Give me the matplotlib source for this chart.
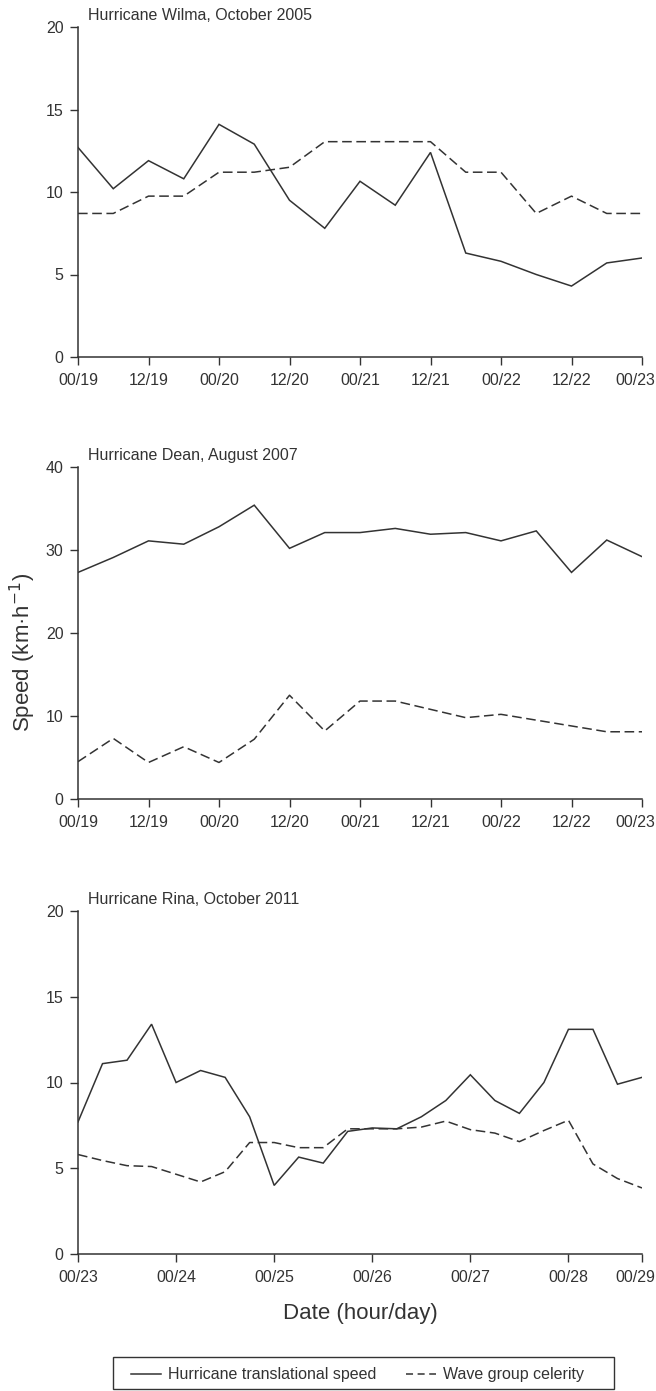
import matplotlib
matplotlib.use("Agg")
import matplotlib.pyplot as plt
import matplotlib.transforms as mtransforms
from matplotlib.lines import Line2D
from matplotlib.patches import Rectangle

# ---------------- data ----------------
hours_wd = [0, 6, 12, 18, 24, 30, 36, 42, 48, 54, 60, 66, 72, 78, 84, 90, 96]

wilma_speed = [12.7, 10.2, 11.9, 10.8, 14.1, 12.9, 9.5, 7.8, 10.65, 9.2, 12.4,
               6.3, 5.8, 5.0, 4.3, 5.7, 6.0]
wilma_celerity = [8.7, 8.7, 9.75, 9.75, 11.2, 11.2, 11.5, 13.05, 13.05, 13.05, 13.05,
                  11.2, 11.2, 8.7, 9.75, 8.7, 8.7]

dean_speed = [27.3, 29.1, 31.1, 30.7, 32.8, 35.4, 30.2, 32.1, 32.1, 32.6, 31.9,
              32.1, 31.1, 32.3, 27.3, 31.2, 29.2]
dean_celerity = [4.5, 7.3, 4.4, 6.3, 4.4, 7.2, 12.5, 8.2, 11.8, 11.8, 10.8,
                 9.8, 10.2, 9.5, 8.8, 8.1, 8.1]

hours_r = [0, 6, 12, 18, 24, 30, 36, 42, 48, 54, 60, 66, 72, 78, 84, 90, 96,
           102, 108, 114, 120, 126, 132, 138]
rina_speed = [7.7, 11.1, 11.3, 13.4, 10.0, 10.7, 10.3, 8.0, 4.0, 5.65, 5.3, 7.15,
              7.35, 7.3, 8.0, 8.95, 10.45, 8.95, 8.2, 10.0, 13.1, 13.1, 9.9, 10.3]
rina_celerity = [5.8, 5.45, 5.15, 5.1, 4.65, 4.2, 4.8, 6.5, 6.5, 6.2, 6.2, 7.3,
                 7.3, 7.3, 7.4, 7.75, 7.25, 7.05, 6.55, 7.2, 7.8, 5.25, 4.4, 3.85]

ticks_wd = [0, 12, 24, 36, 48, 60, 72, 84, 96]
labels_wd = ["00/19", "12/19", "00/20", "12/20", "00/21", "12/21", "00/22", "12/22", "00/23"]
ticks_r = [0, 24, 48, 72, 96, 120, 138]
labels_r = ["00/23", "00/24", "00/25", "00/26", "00/27", "00/28", "00/29"]

titles = ["Hurricane Wilma, October 2005", "Hurricane Dean, August 2007",
          "Hurricane Rina, October 2011"]
series_labels = ["Hurricane translational speed", "Wave group celerity"]

# ---------------- style ----------------
FONT = ["Liberation Sans", "DejaVu Sans"]
INK = "#333333"
W, H = 656, 1391
fig = plt.figure(figsize=(W / 100, H / 100), dpi=100)

left, right = 78, 642
panels = [(27, 357), (467, 799), (911, 1254)]


def make_ax(top, bottom):
    return fig.add_axes([left / W, 1 - bottom / H, (right - left) / W, (bottom - top) / H])


axes = [make_ax(t, b) for t, b in panels]

data = [
    (hours_wd, wilma_speed, wilma_celerity, (0, 20), [0, 5, 10, 15, 20], ticks_wd, labels_wd, (0, 96)),
    (hours_wd, dean_speed, dean_celerity, (0, 40), [0, 10, 20, 30, 40], ticks_wd, labels_wd, (0, 96)),
    (hours_r, rina_speed, rina_celerity, (0, 20), [0, 5, 10, 15, 20], ticks_r, labels_r, (0, 138)),
]

shift_last = mtransforms.ScaledTranslation(-7 / 100, 0, fig.dpi_scale_trans)

for ax, title, (x, s, c, ylim, yt, xt, xl, xlim), (top, bot) in zip(axes, titles, data, panels):
    ax.plot(x, s, color=INK, lw=1.1, solid_joinstyle="miter")
    ax.plot(x, c, color=INK, lw=1.1, linestyle=(0, (6.3, 3.0)))
    ax.set_ylim(*ylim)
    ax.set_xlim(*xlim)
    ax.set_yticks(yt)
    ax.set_xticks(xt)
    ax.set_xticklabels(xl)
    for sp in ("top", "right"):
        ax.spines[sp].set_visible(False)
    for sp in ("left", "bottom"):
        ax.spines[sp].set_color(INK)
        ax.spines[sp].set_linewidth(1.1)
    ax.tick_params(direction="out", length=5.5, width=1.0, color=INK, labelcolor=INK,
                   labelsize=11.5)
    ax.tick_params(axis="x", pad=6)
    ax.tick_params(axis="y", pad=5)
    for lab in ax.get_xticklabels() + ax.get_yticklabels():
        lab.set_family(FONT)
    last = ax.get_xticklabels()[-1]
    last.set_transform(last.get_transform() + shift_last)
    ax.text(0.018, 1 + 4 / (bot - top), title, transform=ax.transAxes, ha="left",
            va="bottom", fontsize=11.5, family=FONT, color=INK)

axes[1].set_ylabel("Speed (km·h$^{-1}$)", fontsize=16, family=FONT, color=INK)
axes[1].yaxis.set_label_coords(-0.071, 0.44)
axes[2].set_xlabel("Date (hour/day)", fontsize=16, family=FONT, color=INK, labelpad=13)

# legend
handles = [Line2D([], [], color=INK, lw=1.1),
           Line2D([], [], color=INK, lw=1.1, linestyle=(0, (4.6, 3.0)))]
leg = fig.legend(handles, series_labels, loc="center left", ncol=2,
                 bbox_to_anchor=(131 / W, 1 - 1375 / H), frameon=False,
                 handlelength=1.85, handletextpad=0.45, columnspacing=1.9,
                 borderpad=0, borderaxespad=0,
                 prop={"family": FONT, "size": 11.5})
for t in leg.get_texts():
    t.set_color(INK)
fig.patches.append(Rectangle((113 / W, 1 - 1389 / H), (614 - 113) / W, (1389 - 1357) / H,
                             transform=fig.transFigure, fill=False, edgecolor=INK,
                             linewidth=1.0))

fig.savefig("out.png", dpi=100, facecolor="white")
